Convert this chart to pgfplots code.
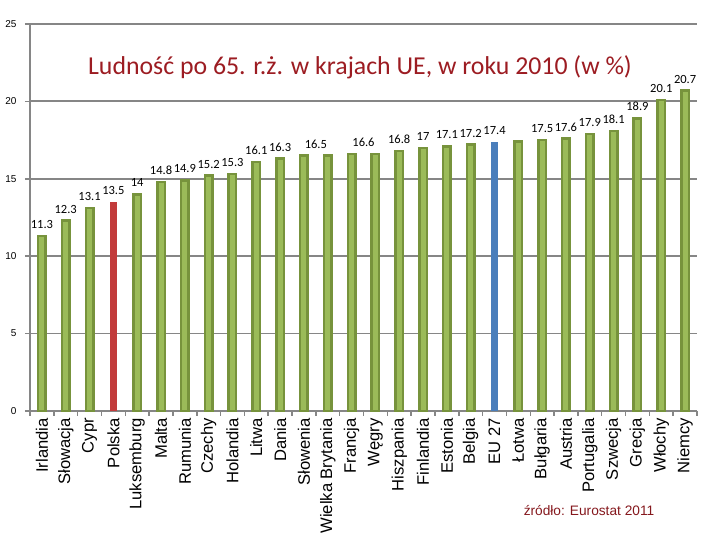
\documentclass[border=0pt]{standalone}
\usepackage{fontspec}
\setmainfont{Liberation Sans}
\newfontfamily\titlefont{Carlito}
\usepackage{pgfplots}
\pgfplotsset{compat=1.18}
\usepackage{pgfplotstable}

\definecolor{barfill}{HTML}{9BBB59}
\definecolor{baredge}{HTML}{77933C}
\definecolor{plred}{HTML}{C23B3B}
\definecolor{eublue}{HTML}{4A7EBB}
\definecolor{gridgray}{HTML}{868686}
\definecolor{titlered}{HTML}{9C1C22}

% share of population aged 65+ (per cent), countries ordered by value
\pgfplotstableread{
x v
0 11.3
1 12.3
2 13.1
4 14.0
5 14.8
6 14.9
7 15.2
8 15.3
9 16.1
10 16.3
11 16.5
12 16.5
13 16.6
14 16.6
15 16.8
16 17.0
17 17.1
18 17.2
20 17.4
21 17.5
22 17.6
23 17.9
24 18.1
25 18.9
26 20.1
27 20.7
}\countries

\pgfplotstableread{
x v
3 13.5
}\poland

\pgfplotstableread{
x v
19 17.4
}\eutotal

% value labels; equal neighbouring values share one label
\pgfplotstableread{
x v
0 11.3
1 12.3
2 13.1
3 13.5
4 14
5 14.8
6 14.9
7 15.2
8 15.3
9 16.1
10 16.3
11.5 16.5
13.5 16.6
15 16.8
16 17
17 17.1
18 17.2
19 17.4
21 17.5
22 17.6
23 17.9
24 18.1
25 18.9
26 20.1
27 20.7
}\valuelabels

\begin{document}
\begin{tikzpicture}[x=1pt,y=1pt]
\useasboundingbox (0,0) rectangle (720,540);
\begin{axis}[
  at={(30pt,129pt)}, anchor=south west,
  scale only axis, width=667pt, height=387pt,
  xmin=-0.5, xmax=27.5, ymin=0, ymax=25,
  clip=false,
  axis x line*=bottom, axis y line*=left,
  axis line style={gridgray, line width=1.8pt, -},
  ymajorgrids, major grid style={gridgray, line width=1.8pt},
  tick style={gridgray, line width=1.5pt},
  tick align=outside, major tick length=5pt,
  ytick={0,5,...,25},
  yticklabel style={font=\fontsize{10}{10}\selectfont, xshift=-5pt},
  /pgf/number format/assume math mode=true,
  xtick={-0.5,0.5,...,27.5},
  x tick label as interval,
  xticklabels={Irlandia,Słowacja,Cypr,Polska,Luksemburg,Malta,Rumunia,Czechy,Holandia,Litwa,Dania,Słowenia,Wielka Brytania,Francja,Węgry,Hiszpania,Finlandia,Estonia,Belgia,EU 27,Łotwa,Bułgaria,Austria,Portugalia,Szwecja,Grecja,Włochy,Niemcy},
  xticklabel style={rotate=90, anchor=east, inner sep=2pt, font=\fontsize{16.6}{16.6}\selectfont},
]
\addplot[ybar, bar width=7.5pt, bar shift=0pt, fill=barfill, draw=baredge, line width=2.5pt, line join=miter] table[x=x, y=v] {\countries};
\addplot[ybar, bar width=7pt, bar shift=0pt, fill=plred, draw=none] table[x=x, y=v] {\poland};
\addplot[ybar, bar width=7pt, bar shift=0pt, fill=eublue, draw=none] table[x=x, y=v] {\eutotal};
\addplot[only marks, mark=none, nodes near coords,
  nodes near coords style={anchor=base, yshift=7.5pt, inner sep=0pt, font=\titlefont\fontsize{12.5}{12.5}\selectfont, text=black}]
  table[x=x, y=v] {\valuelabels};
\end{axis}
\node[anchor=base, text=titlered, font=\titlefont\fontsize{25.8}{25.8}\selectfont] at (360,465) {Ludność po 65. r.ż. w krajach UE, w roku 2010 (w \%)};
\node[anchor=base, text=titlered!85!black, font=\fontsize{13.7}{14}\selectfont] at (589,24) {źródło: Eurostat 2011};
\end{tikzpicture}
\end{document}
